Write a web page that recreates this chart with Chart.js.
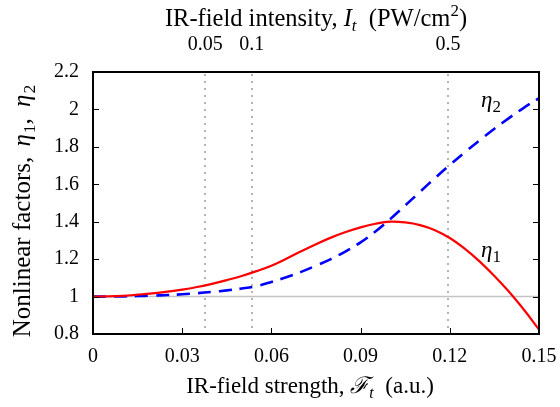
<!DOCTYPE html>
<html>
<head>
<meta charset="utf-8">
<script src="https://cdn.jsdelivr.net/npm/chart.js@4.4.1/dist/chart.umd.min.js"></script>
<style>
  html, body { margin: 0; padding: 0; background: #fff; }
  #wrap { width: 560px; height: 407px; }
</style>
</head>
<body>
<div id="wrap"><canvas id="c" width="560" height="407"></canvas></div>
<script>
// ---- data ----
const fieldStrength = [0, 0.005, 0.01, 0.015, 0.02, 0.025, 0.03, 0.035, 0.04, 0.045, 0.05,
  0.055, 0.06, 0.065, 0.07, 0.075, 0.08, 0.085, 0.09, 0.095, 0.1,
  0.105, 0.11, 0.115, 0.12, 0.125, 0.13, 0.135, 0.14, 0.145, 0.15];
const eta1 = [1.0, 1.001, 1.004, 1.01, 1.017, 1.026, 1.037, 1.051, 1.068, 1.088, 1.11,
  1.136, 1.165, 1.202, 1.242, 1.28, 1.315, 1.345, 1.37, 1.389, 1.4,
  1.396, 1.382, 1.355, 1.313, 1.256, 1.188, 1.11, 1.024, 0.928, 0.824];
const eta2 = [1.0, 1.0, 1.001, 1.003, 1.005, 1.008, 1.012, 1.018, 1.025, 1.033, 1.043,
  1.056, 1.078, 1.103, 1.132, 1.165, 1.2, 1.242, 1.29, 1.348, 1.415,
  1.487, 1.56, 1.633, 1.703, 1.77, 1.835, 1.897, 1.955, 2.01, 2.06];
const xTicks = [0, 0.03, 0.06, 0.09, 0.12, 0.15];
const yTicks = [0.8, 1, 1.2, 1.4, 1.6, 1.8, 2, 2.2];
const intensityTicks = [0.05, 0.1, 0.5];          // PW/cm^2
const intensityTickLabels = ['0.05', '0.1', '0.5'];
const referenceLevel = 1;
// conversion: I [PW/cm^2] = 35.094 * F^2 [a.u.]
const AU_INTENSITY = 35.094;
const intensityToField = i => Math.sqrt(i / AU_INTENSITY);

const FONT = '"Liberation Serif", "Times New Roman", "DejaVu Serif", serif';
const fontStr = s => (s.it ? 'italic ' : '') + s.size + 'px ' + FONT;

function drawRich(ctx, segs, x, y, align) {
  let w = 0;
  segs.forEach(s => { ctx.font = fontStr(s); s.w = ctx.measureText(s.t).width + (s.gap || 0); w += s.w; });
  let cx = align === 'left' ? x : x - w / 2;
  ctx.textAlign = 'left';
  ctx.textBaseline = 'alphabetic';
  segs.forEach(s => { ctx.font = fontStr(s); ctx.fillText(s.t, cx, y + (s.dy || 0)); cx += s.w; });
}

const T = 24.5, S = 17, B = 23, BS = 16;
const topTitle = [
  { t: 'IR-field intensity, ', size: T }, { t: 'I', size: T, it: true },
  { t: 't', size: S, it: true, dy: 5 }, { t: '  (PW/cm', size: T },
  { t: '2', size: S, dy: -10 }, { t: ')', size: T }
];
const bottomTitle = [
  { t: 'IR-field strength, ', size: B }, { t: '\u2131', size: B, it: true },
  { t: 't', size: BS, it: true, dy: 5 }, { t: '  (a.u.)', size: B }
];
const leftTitle = [
  { t: 'Nonlinear factors, ', size: 25, gap: 4 }, { t: '\u03b7', size: 25, it: true, gap: 1 },
  { t: '1', size: 17.5, dy: 5 }, { t: ', ', size: 25, gap: 5 }, { t: '\u03b7', size: 25, it: true, gap: 1 },
  { t: '2', size: 17.5, dy: 5 }
];
const curveLabels = [
  { name: '\u03b7', sub: '2', x: 0.1305, y: 2.015 },
  { name: '\u03b7', sub: '1', x: 0.1305, y: 1.21 }
];

const decor = {
  id: 'decor',
  beforeDatasetsDraw(chart) {
    const { ctx, chartArea: a, scales } = chart;
    ctx.save();
    const y1 = scales.y.getPixelForValue(referenceLevel);
    ctx.strokeStyle = '#c4c4c4'; ctx.lineWidth = 1.5;
    ctx.beginPath(); ctx.moveTo(a.left, y1); ctx.lineTo(a.right, y1); ctx.stroke();
    ctx.strokeStyle = '#b4b4b4'; ctx.lineWidth = 2; ctx.setLineDash([2, 5]);
    intensityTicks.forEach(i => {
      const x = Math.round(scales.x2.getPixelForValue(intensityToField(i)));
      ctx.beginPath(); ctx.moveTo(x, a.top + 2); ctx.lineTo(x, a.bottom); ctx.stroke();
    });
    ctx.restore();
  },
  afterDraw(chart) {
    const { ctx, chartArea: a, scales } = chart;
    ctx.save();
    ctx.fillStyle = '#000';
    ctx.strokeStyle = '#000';
    ctx.lineWidth = 1;
    const tl = 6;
    ctx.beginPath();
    yTicks.forEach(v => {
      const y = Math.round(scales.y.getPixelForValue(v)) + 0.5;
      ctx.moveTo(a.left, y); ctx.lineTo(a.left + tl, y);
      ctx.moveTo(a.right, y); ctx.lineTo(a.right - tl, y);
    });
    xTicks.forEach(v => {
      const x = Math.round(scales.x.getPixelForValue(v)) + 0.5;
      ctx.moveTo(x, a.bottom); ctx.lineTo(x, a.bottom - tl);
    });
    ctx.stroke();
    ctx.lineWidth = 2;
    ctx.strokeRect(a.left, a.top, a.right - a.left, a.bottom - a.top);
    curveLabels.forEach(l => {
      const x = scales.x.getPixelForValue(l.x);
      const y = scales.y.getPixelForValue(l.y);
      drawRich(ctx, [{ t: l.name, size: 23, it: true }, { t: l.sub, size: 17, dy: 5 }], x, y, 'left');
    });
    const cx = (a.left + a.right) / 2;
    drawRich(ctx, topTitle, cx, 26);
    drawRich(ctx, bottomTitle, cx - 6, 393);
    ctx.translate(30, (a.top + a.bottom) / 2 + 8);
    ctx.rotate(-Math.PI / 2);
    drawRich(ctx, leftTitle, 0, 0);
    ctx.restore();
  }
};

const tickFont = { family: FONT, size: 20 };
const noPad = s => { s.paddingLeft = 0; s.paddingRight = 0; };
new Chart(document.getElementById('c'), {
  type: 'line',
  data: {
    datasets: [
      { label: 'eta1', data: fieldStrength.map((f, i) => ({ x: f, y: eta1[i] })),
        borderColor: '#ff0000', borderWidth: 2.2, pointRadius: 0, tension: 0.4, fill: false },
      { label: 'eta2', data: fieldStrength.map((f, i) => ({ x: f, y: eta2[i] })),
        borderColor: '#0000ff', borderWidth: 2.6, borderDash: [13, 8], pointRadius: 0, tension: 0.4, fill: false }
    ]
  },
  options: {
    responsive: false,
    animation: false,
    devicePixelRatio: 1,
    layout: { padding: { left: 0, right: 21, top: 0, bottom: 0 } },
    plugins: { legend: { display: false }, tooltip: { enabled: false } },
    scales: {
      x: {
        type: 'linear', position: 'bottom', min: 0, max: 0.15,
        afterBuildTicks: s => { s.ticks = xTicks.map(v => ({ value: v })); },
        ticks: { font: tickFont, color: '#000', padding: 11, maxRotation: 0, autoSkip: false,
          callback: v => String(+v.toFixed(2)) },
        grid: { display: false, drawTicks: false }, border: { display: false },
        afterFit: s => { s.height = 73; noPad(s); }
      },
      x2: {
        type: 'linear', position: 'top', min: 0, max: 0.15,
        afterBuildTicks: s => { s.ticks = intensityTicks.map(i => ({ value: intensityToField(i) })); },
        ticks: { font: tickFont, color: '#000', padding: 15, maxRotation: 0, autoSkip: false,
          callback: (v, idx) => intensityTickLabels[idx] },
        grid: { display: false, drawTicks: false }, border: { display: false },
        afterFit: s => { s.height = 72; noPad(s); }
      },
      y: {
        type: 'linear', position: 'left', min: 0.8, max: 2.2,
        afterBuildTicks: s => { s.ticks = yTicks.map(v => ({ value: v })); },
        ticks: { font: tickFont, color: '#000', padding: 14,
          callback: v => String(+v.toFixed(1)) },
        grid: { display: false, drawTicks: false }, border: { display: false },
        afterFit: s => { s.width = 93; }
      }
    }
  },
  plugins: [decor]
});
</script>
</body>
</html>
